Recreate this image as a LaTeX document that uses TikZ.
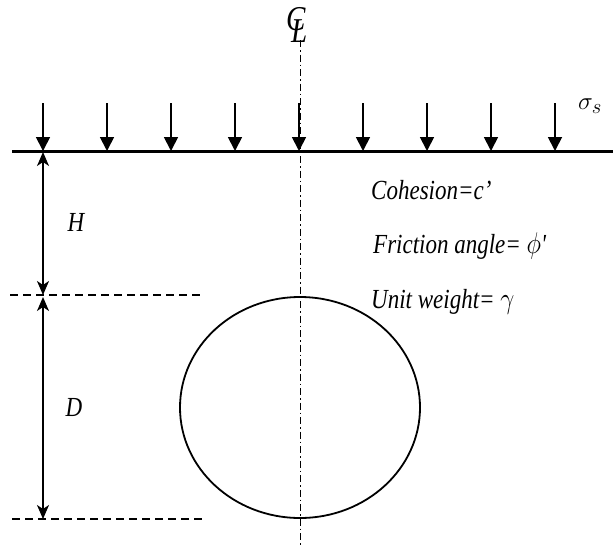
\documentclass[tikz,border=0pt]{standalone}
\usepackage{fontspec}
\setmainfont{Liberation Serif}
\usetikzlibrary{arrows.meta,shapes.geometric}
\newcommand{\tall}[1]{\scalebox{1}[1.2]{#1}}
\begin{document}
\begin{tikzpicture}[x=1pt,y=-1pt,
  lbl/.style={font=\fontsize{23}{26}\selectfont\itshape, inner sep=0pt},
  load/.style={line width=1.8pt, -{Triangle[width=14pt,length=14pt]}},
  dim/.style={line width=1.6pt, {Stealth[width=12pt,length=14pt,inset=4pt]}-{Stealth[width=12pt,length=14pt,inset=4pt]}},
  refline/.style={line width=1.6pt, dash pattern=on 8pt off 5pt},
  axis/.style={line width=0.8pt, dash pattern=on 7pt off 3pt on 1.5pt off 3pt}]
\useasboundingbox (0,0) rectangle (613,547);
% ground
\coordinate (g0) at (12,151);
\coordinate (g1) at (613,151);
\draw[line width=3pt] (g0) -- (g1);
% centerline
\coordinate (c0) at (300,40);
\coordinate (c1) at (300,547);
\draw[axis] (c0) -- (c1);
% CL symbol (C and L overlapped)
\node[lbl, font=\fontsize{29}{30}\selectfont\itshape, anchor=north west] (cl) at (286,7)
  {\rlap{\tall{C}}\raisebox{-12pt}{\hspace{5pt}\tall{L}}};
% load arrows
\foreach \i [count=\k] in {43,107,171,235,299,363,427,491,555} {
  \coordinate (la\k) at (\i,103);
  \coordinate (lb\k) at (\i,151);
  \draw[load] (la\k) -- (lb\k);
}
\node[lbl, font=\fontsize{31}{32}\selectfont] (sig) at (590,106) {$\sigma_s$};
% tunnel
\node[draw, line width=1.8pt, ellipse, minimum width=240pt, minimum height=221pt, inner sep=0pt] (tun) at (300,407.5) {};
% reference dashed lines
\coordinate (t0) at (10,295);
\coordinate (t1) at (200,295);
\coordinate (b0) at (12,519);
\coordinate (b1) at (202,519);
\draw[refline] (t0) -- (t1);
\draw[refline] (b0) -- (b1);
% dimensions
\coordinate (h0) at (43,152);
\coordinate (h1) at (43,295);
\coordinate (d0) at (43,297);
\coordinate (d1) at (43,519);
\draw[dim] (h0) -- (h1);
\draw[dim] (d0) -- (d1);
\node[lbl] (H) at (76,222) {\tall{H}};
\node[lbl] (D) at (74,407) {\tall{D}};
% properties
\node[lbl, anchor=base west] (coh) at (371,199) {\tall{Cohesion=c’}};
\node[lbl, anchor=base west] (fri) at (373,253) {\tall{Friction angle= $\phi$\textquotesingle}};
\node[lbl, anchor=base west] (uw) at (371,308) {\tall{Unit weight= $\gamma$}};
\end{tikzpicture}
\end{document}
